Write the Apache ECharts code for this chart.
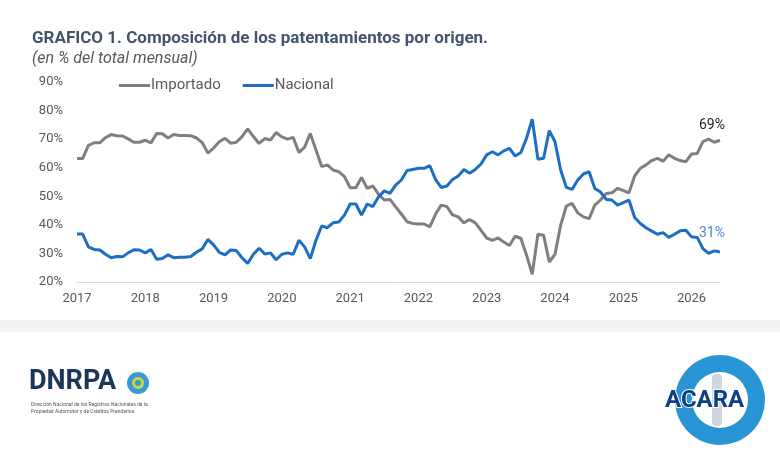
<!DOCTYPE html>
<html>
<head>
<meta charset="utf-8">
<script src="https://cdn.jsdelivr.net/npm/echarts@6/dist/echarts.min.js"></script>
<style>
  html, body { margin: 0; padding: 0; background: #ffffff; }
  #chart { width: 780px; height: 455px; }
</style>
</head>
<body>
<div id="chart"></div>
<script>
// tick labels (one per January)
const years = ["2017", "2018", "2019", "2020", "2021", "2022", "2023", "2024", "2025", "2026"];
const monthsInLastYear = 6;

// share of monthly registrations, %
const importado = [
  63.2, 63.2, 67.8, 68.7, 68.7, 70.5, 71.6, 71.2, 71.1, 70.1, 68.9, 68.9,
  69.6, 68.7, 72.0, 71.9, 70.4, 71.6, 71.3, 71.3, 71.2, 70.4, 68.8, 65.1,
  66.9, 69.1, 70.3, 68.6, 68.9, 70.9, 73.6, 70.9, 68.5, 70.2, 69.7, 72.3,
  70.8, 70.0, 70.6, 65.3, 67.2, 72.0, 66.2, 60.4, 61.0, 59.2, 58.6, 56.9,
  53.0, 53.0, 56.6, 52.8, 53.6, 50.7, 48.7, 48.9, 46.3, 43.8, 41.1, 40.5,
  40.3, 40.3, 39.3, 43.7, 46.9, 46.4, 43.5, 42.8, 40.7, 41.9, 40.7, 38.1,
  35.4, 34.6, 35.4, 34.0, 32.8, 36.0, 35.3, 29.4, 22.7, 36.7, 36.4, 27.0,
  29.7, 39.9, 46.6, 47.5, 44.2, 42.8, 42.2, 46.9, 48.7, 51.0, 51.2, 52.8,
  52.0, 51.2, 57.1, 59.8, 61.0, 62.5, 63.3, 62.3, 64.5, 63.3, 62.5, 62.1,
  64.8, 65.0, 69.1, 70.0, 68.9, 69.6
];
const nacional = [
  36.8, 36.8, 32.3, 31.4, 31.2, 29.7, 28.5, 28.9, 28.8, 30.2, 31.3, 31.2,
  30.2, 31.4, 28.0, 28.2, 29.5, 28.5, 28.7, 28.7, 28.9, 30.4, 31.6, 34.9,
  33.0, 30.4, 29.5, 31.2, 31.0, 28.5, 26.5, 29.7, 31.8, 29.8, 30.2, 27.8,
  29.7, 30.2, 29.7, 34.6, 32.3, 28.2, 34.6, 39.6, 39.0, 40.7, 41.0, 43.4,
  47.3, 47.3, 43.4, 47.3, 46.4, 49.8, 51.9, 51.0, 53.9, 55.7, 59.0, 59.4,
  59.8, 59.8, 60.7, 55.9, 53.1, 53.6, 55.9, 57.1, 59.4, 58.1, 59.4, 61.3,
  64.5, 65.6, 64.5, 65.9, 66.8, 64.1, 65.3, 70.3, 77.0, 63.0, 63.3, 73.0,
  69.1, 59.2, 53.1, 52.4, 55.7, 57.8, 58.6, 52.7, 51.5, 48.9, 48.7, 46.9,
  47.8, 48.7, 42.6, 40.5, 39.0, 37.8, 36.7, 37.3, 35.6, 36.7, 37.9, 38.1,
  35.8, 35.6, 31.7, 30.0, 30.9, 30.5
];
const endLabels = ["69%", "31%"];

const GRAY = "#7f7f7f";
const BLUE = "#1c6fc4";
const TEXT = "#595959";
const FONT = "Roboto, 'Noto Sans', sans-serif";

const months = [];
years.forEach((y, yi) => {
  const n = yi === years.length - 1 ? monthsInLastYear : 12;
  for (let m = 1; m <= n; m++) months.push(y + "-" + String(m).padStart(2, "0"));
});

// only the last point carries a text label
function withEndLabel(values, text, color, offset) {
  return values.map((v, i) => {
    if (i !== values.length - 1) return v;
    return {
      value: v,
      label: {
        show: true,
        position: "top",
        distance: 0,
        formatter: text,
        color: color,
        fontSize: 14,
        fontFamily: FONT,
        offset: offset,
      },
    };
  });
}

const chart = echarts.init(document.getElementById("chart"), null, { renderer: "canvas" });
chart.setOption({
  animation: false,
  backgroundColor: "#ffffff",
  textStyle: { fontFamily: FONT },
  title: {
    text: "GRAFICO 1. Composición de los patentamientos por origen.",
    subtext: "(en % del total mensual)",
    left: 27,
    top: 25,
    itemGap: 4,
    textStyle: { fontSize: 17, fontWeight: "bold", color: "#44546a", fontFamily: FONT },
    subtextStyle: { fontSize: 16, fontStyle: "italic", color: TEXT, fontFamily: FONT },
  },
  legend: {
    left: 114,
    top: 73,
    itemWidth: 31,
    itemHeight: 3,
    itemGap: 22,
    icon: "rect",
    textStyle: { fontSize: 15, color: TEXT, fontFamily: FONT, padding: [0, 0, 0, -4] },
    data: ["Importado", "Nacional"],
  },
  grid: { left: 77, right: 60, top: 82, height: 200 },
  xAxis: {
    type: "category",
    data: months,
    boundaryGap: false,
    axisLine: { lineStyle: { color: "#d9d9d9", width: 1 } },
    axisTick: { show: false },
    axisLabel: {
      interval: (i) => i % 12 === 0,
      formatter: (v) => v.slice(0, 4),
      color: TEXT,
      fontSize: 13,
      margin: 10,
    },
    splitLine: { show: false },
  },
  yAxis: {
    type: "value",
    min: 20,
    max: 90,
    interval: 10,
    axisLine: { show: false },
    axisTick: { show: false },
    splitLine: { show: false },
    axisLabel: { formatter: "{value}%", color: TEXT, fontSize: 13, margin: 14 },
  },
  series: [
    {
      name: "Importado",
      type: "line",
      data: withEndLabel(importado, endLabels[0], "#262626", [-8, -8]),
      symbol: "circle",
      symbolSize: 0,
      showSymbol: true,
      color: GRAY,
      lineStyle: { color: GRAY, width: 3 },
    },
    {
      name: "Nacional",
      type: "line",
      data: withEndLabel(nacional, endLabels[1], "#4a86d4", [-8, -12]),
      symbol: "circle",
      symbolSize: 0,
      showSymbol: true,
      color: BLUE,
      lineStyle: { color: BLUE, width: 3 },
    },
  ],
  graphic: [
    { type: "rect", shape: { x: 0, y: 320, width: 780, height: 12 }, style: { fill: "#f3f3f3" }, silent: true },
    {
      type: "text", left: 29, top: 369,
      style: { text: "DNRPA", font: "bold 27px Roboto, sans-serif", fill: "#1d3557" },
    },
    { type: "circle", shape: { cx: 138, cy: 383, r: 11 }, style: { fill: "#3a9ad9" } },
    { type: "circle", shape: { cx: 138, cy: 383, r: 6 }, style: { fill: "#c9d83a" } },
    { type: "circle", shape: { cx: 138, cy: 383, r: 3 }, style: { fill: "#3a9ad9" } },
    {
      type: "text", left: 31, top: 401,
      style: {
        text: "Dirección Nacional de los Registros Nacionales de la\nPropiedad Automotor y de Créditos Prendarios",
        font: "5px Roboto, sans-serif", fill: "#555555", lineHeight: 7,
      },
    },
    { type: "circle", shape: { cx: 720, cy: 400, r: 45 }, style: { fill: "#2a95d5" } },
    { type: "circle", shape: { cx: 720, cy: 400, r: 28 }, style: { fill: "#ffffff" } },
    { type: "rect", shape: { x: 712, y: 374, width: 10, height: 52, r: 4 }, style: { fill: "#cfd6de" } },
    {
      type: "text", left: 664, top: 388,
      style: { text: "ACARA", font: "bold 24px Roboto, sans-serif", fill: "#0d3f85", stroke: "#ffffff", lineWidth: 2 },
    },
  ],
});
</script>
</body>
</html>
